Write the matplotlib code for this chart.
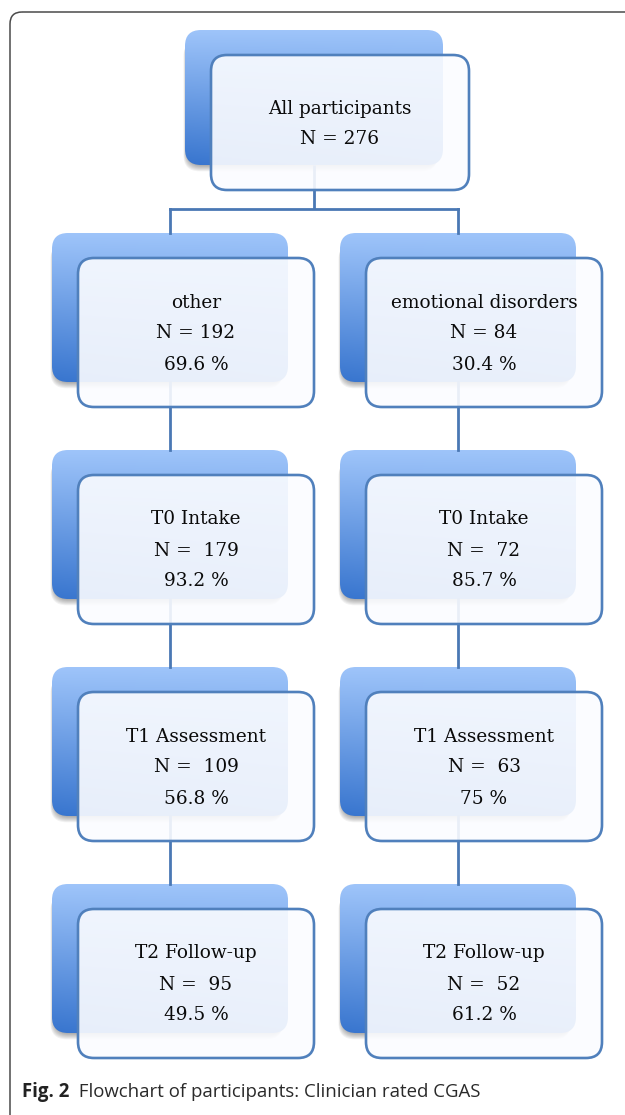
import numpy as np
import matplotlib
matplotlib.use("Agg")
import matplotlib.pyplot as plt
from matplotlib.patches import FancyBboxPatch

# flowchart content
top_label = "All participants"
top_n = "N = 276"
groups = ["other", "emotional disorders"]
stages = ["", "T0 Intake", "T1 Assessment", "T2 Follow-up"]
counts = [[192, 84], [179, 72], [109, 63], [95, 52]]
percents = [["69.6", "30.4"], ["93.2", "85.7"], ["56.8", "75"], ["49.5", "61.2"]]
caption_bold = "Fig. 2"
caption = "Flowchart of participants: Clinician rated CGAS"

W, H = 625, 1115
fig = plt.figure(figsize=(W / 100, H / 100), dpi=100)
ax = fig.add_axes([0, 0, 1, 1])
ax.set_xlim(0, W)
ax.set_ylim(H, 0)
ax.axis("off")

line_col = "#4a78b4"
edge_col = "#5080bc"
serif = "DejaVu Serif"
top_c = np.array([0.62, 0.77, 0.98])
bot_c = np.array([0.22, 0.46, 0.81])


def back_box(x0, y0, w, h):
    # soft shadow, mostly below the box
    for k in range(1, 8):
        sh = FancyBboxPatch((x0 + 2 - k * 0.5, y0 + 4 + k * 0.9), w - 4, h - 4,
                            boxstyle="round,pad=0,rounding_size=16",
                            fc="#000000", ec="none", alpha=0.05, zorder=1)
        ax.add_patch(sh)
    p = FancyBboxPatch((x0, y0), w, h, boxstyle="round,pad=0,rounding_size=16",
                       fc="none", ec="none", zorder=2)
    ax.add_patch(p)
    v = np.linspace(0, 1, 100)[:, None]
    u = np.linspace(0, 1, 100)[None, :]
    t = np.clip(0.8 * v + 0.2 * (1 - u) * v, 0, 1)
    img = top_c[None, None, :] * (1 - t[..., None]) + bot_c[None, None, :] * t[..., None]
    im = ax.imshow(img, extent=(x0, x0 + w, y0 + h, y0), origin="upper",
                   aspect="auto", zorder=2, interpolation="bilinear")
    im.set_clip_path(p)


def front_box(x0, y0, w, h):
    p = FancyBboxPatch((x0, y0), w, h, boxstyle="round,pad=0,rounding_size=16",
                       ec=edge_col, lw=1.9, zorder=4)
    p.set_facecolor((0.985, 0.99, 1.0, 0.9))
    ax.add_patch(p)


def box_text(cx, cy, lines, step):
    n = len(lines)
    for i, s in enumerate(lines):
        y = cy + (i - (n - 1) / 2) * step
        ax.text(cx, y, s, ha="center", va="center", fontsize=13.3,
                family=serif, color="#0a0a0a", zorder=6)


# frame
ax.add_patch(FancyBboxPatch((10, 12), 720, 1200, boxstyle="round,pad=0,rounding_size=12",
                            fc="none", ec="#4a4a4a", lw=1.1, zorder=0))

dx, dy = 26, 25
# top box
tx, ty, tw, th = 185, 30, 258, 135
back_box(tx, ty, tw, th)
front_box(tx + dx, ty + dy, tw, th)
box_text(tx + dx + tw / 2, ty + dy + th / 2 + 1, [top_label, top_n], 30)

bw, bh = 236, 149
col_x = [52, 340]
row_y = [233, 450, 667, 884]

# connectors
tcx = tx + tw / 2
ccx = [x + bw / 2 for x in col_x]
hy = 209
ax.plot([tcx, tcx], [ty + th, hy], color=line_col, lw=2, zorder=3, solid_capstyle="butt")
ax.plot([ccx[0], ccx[1]], [hy, hy], color=line_col, lw=2, zorder=3, solid_capstyle="projecting")
for c in ccx:
    ax.plot([c, c], [hy, row_y[0]], color=line_col, lw=2, zorder=3)
    for r in range(len(row_y) - 1):
        ax.plot([c, c], [row_y[r] + bh, row_y[r + 1]], color=line_col, lw=2, zorder=3)

for r, yr in enumerate(row_y):
    for g, xc in enumerate(col_x):
        back_box(xc, yr, bw, bh)
        front_box(xc + dx, yr + dy, bw, bh)
        head = groups[g] if r == 0 else stages[r]
        sep = " " if r == 0 else "  "
        lines = [head, "N =" + sep + str(counts[r][g]), percents[r][g] + " %"]
        box_text(xc + dx + bw / 2, yr + dy + bh / 2 + 1, lines, 31)

# caption
t = ax.text(22, 1092, caption_bold, ha="left", va="center", fontsize=13.4,
            family="Open Sans", fontweight="bold", color="#222222")
ax.annotate("  " + caption, xy=(1, 0.5), xycoords=t, ha="left", va="center",
            fontsize=13.4, family="Open Sans", color="#2a2a2a")

fig.savefig("out.png", dpi=100)
